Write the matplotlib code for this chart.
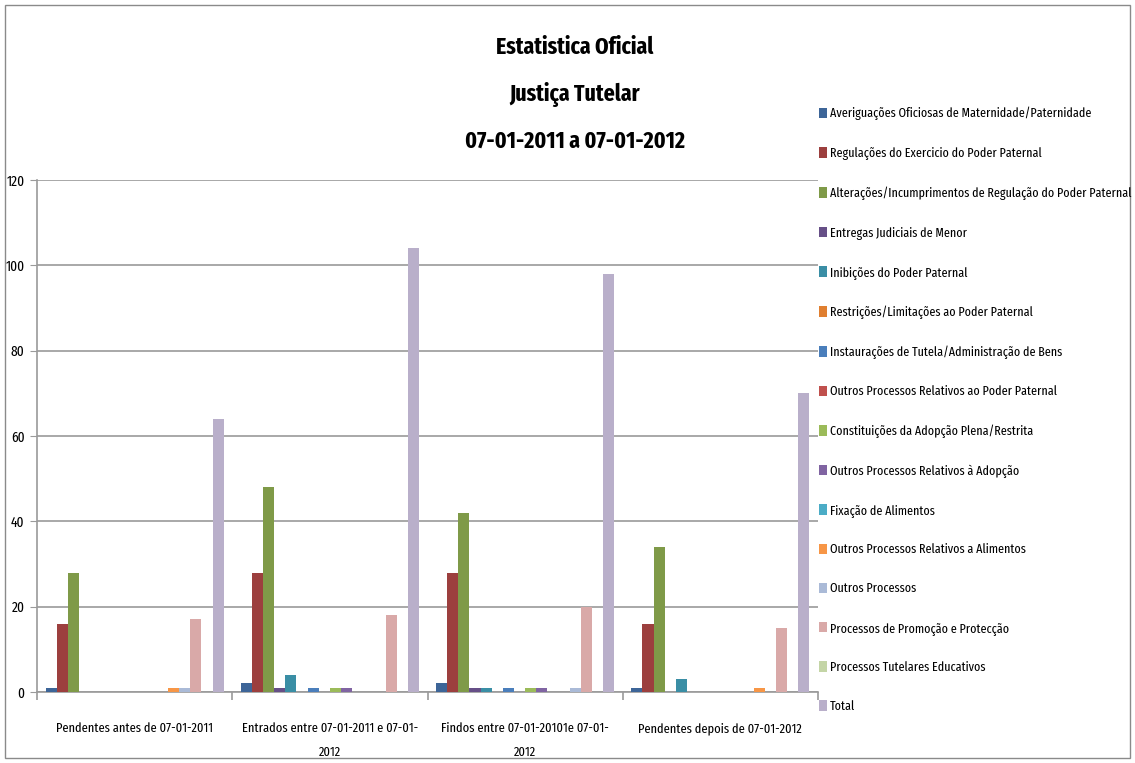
import matplotlib
matplotlib.use("Agg")
import matplotlib.pyplot as plt
from matplotlib.patches import Rectangle, Patch
import numpy as np

plt.rcParams['font.family'] = ['Fira Sans Extra Condensed', 'DejaVu Sans']

categories = [
    "Pendentes antes de 07-01-2011",
    "Entrados entre 07-01-2011 e 07-01-\n2012",
    "Findos entre 07-01-20101e 07-01-\n2012",
    "Pendentes depois de 07-01-2012",
]

series_names = [
    "Averiguações Oficiosas de Maternidade/Paternidade",
    "Regulações do Exercicio do Poder Paternal",
    "Alterações/Incumprimentos de Regulação do Poder Paternal",
    "Entregas Judiciais de Menor",
    "Inibições do Poder Paternal",
    "Restrições/Limitações ao Poder Paternal",
    "Instaurações de Tutela/Administração de Bens",
    "Outros Processos Relativos ao Poder Paternal",
    "Constituições da Adopção Plena/Restrita",
    "Outros Processos Relativos à Adopção",
    "Fixação de Alimentos",
    "Outros Processos Relativos a Alimentos",
    "Outros Processos",
    "Processos de Promoção e Protecção",
    "Processos Tutelares Educativos",
    "Total",
]

# one row per series, one column per category
values = [
    [1, 2, 2, 1],
    [16, 28, 28, 16],
    [28, 48, 42, 34],
    [0, 1, 1, 0],
    [0, 4, 1, 3],
    [0, 0, 0, 0],
    [0, 1, 1, 0],
    [0, 0, 0, 0],
    [0, 1, 1, 0],
    [0, 1, 1, 0],
    [0, 0, 0, 0],
    [1, 0, 0, 1],
    [1, 0, 1, 0],
    [17, 18, 20, 15],
    [0, 0, 0, 0],
    [64, 104, 98, 70],
]

colors = [
    "#3d6598", "#9c3f3e", "#7f9a48", "#664f87", "#3a8ea5", "#e07f30",
    "#4a7ebb", "#c0504d", "#9bbb59", "#8064a2", "#4bacc6", "#f79646",
    "#aabad7", "#d9a9a8", "#c4d5a6", "#b9afca",
]

yticks = [0, 20, 40, 60, 80, 100, 120]

fig = plt.figure(figsize=(11.35, 7.63), dpi=100)
W, H = 1135, 763
ax = fig.add_axes([37 / W, 1 - 692 / H, (818 - 37) / W, (692 - 180) / H])

n = len(series_names)
bw = 0.057
x = np.arange(len(categories))
for i, (name, vals, c) in enumerate(zip(series_names, values, colors)):
    ax.bar(x + (i - (n - 1) / 2) * bw, vals, width=bw, color=c, label=name,
           linewidth=0, zorder=3)

ax.set_xlim(-0.5, len(categories) - 0.5)
ax.set_ylim(0, 120)
ax.set_yticks(yticks)
ax.yaxis.grid(True, color="#9a9a9a", linewidth=1.2, zorder=0)
ax.set_axisbelow(True)
for s in ["top", "right"]:
    ax.spines[s].set_visible(False)
for s in ["left", "bottom"]:
    ax.spines[s].set_color("#9a9a9a")
    ax.spines[s].set_linewidth(1.2)

ax.tick_params(axis="y", length=5, color="#9a9a9a", labelsize=10.5, pad=4)
ax.set_xticks(x)
ax.set_xticklabels(categories, fontsize=9.7, linespacing=2.15)
ax.tick_params(axis="x", length=0, pad=22)
ax.set_xticks(np.arange(-0.5, len(categories)), minor=True)
ax.tick_params(axis="x", which="minor", length=6, color="#9a9a9a", width=1.2)

fig.text(575 / W, 1 - 94 / H,
         "Estatistica Oficial\nJustiça Tutelar\n07-01-2011 a 07-01-2012",
         ha="center", va="center", fontsize=17, fontweight="bold",
         linespacing=2.22)

handles = [Patch(facecolor=c, edgecolor="none") for c in colors]
leg = fig.legend(handles, series_names, loc="upper left",
                 bbox_to_anchor=(819 / W, 1 - 107 / H), frameon=False,
                 fontsize=9.4, handlelength=0.6, handleheight=0.85,
                 handletextpad=0.25, labelspacing=2.03, borderaxespad=0,
                 borderpad=0)

fig.patches.append(Rectangle((5 / W, 5 / H), 1125 / W, 753 / H,
                             transform=fig.transFigure, fill=False,
                             edgecolor="#8a8a8a", linewidth=1))

fig.savefig("out.png", dpi=100)
